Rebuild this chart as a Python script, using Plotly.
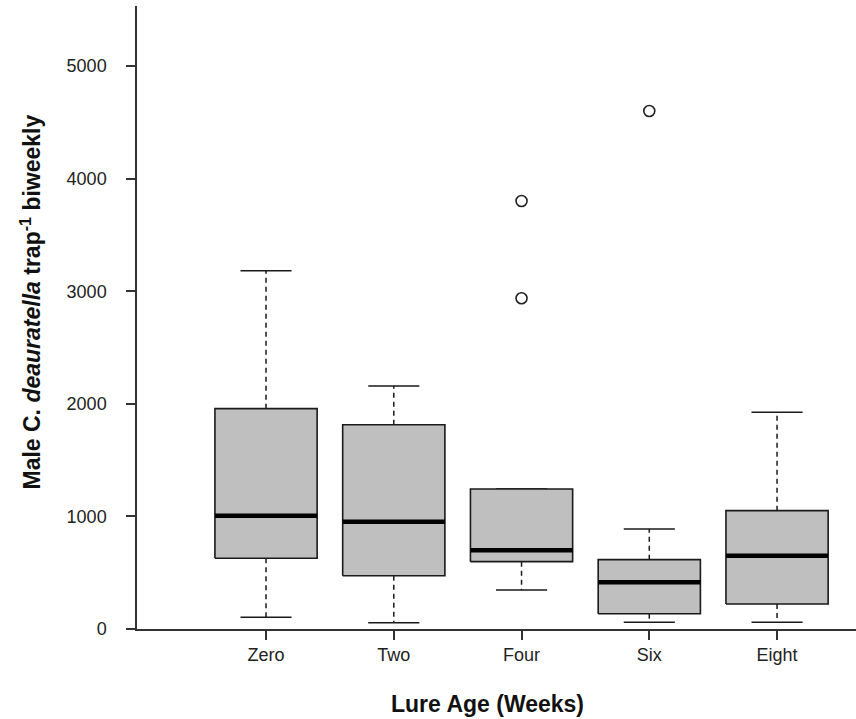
import plotly.graph_objects as go

# Lure age groups and five-number summaries (male moths per trap, biweekly)
categories = ["Zero", "Two", "Four", "Six", "Eight"]
lower_whisker = [104, 56, 346, 59, 59]
q1 = [628, 473, 598, 136, 222]
median = [1006, 953, 699, 415, 651]
q3 = [1957, 1814, 1243, 616, 1051]
upper_whisker = [3182, 2158, 1243, 888, 1924]

# Outlying observations
outlier_group = ["Four", "Four", "Six"]
outlier_value = [2937, 3801, 4600]

y_ticks = [0, 1000, 2000, 3000, 4000, 5000]

positions = list(range(1, len(categories) + 1))
pos_of = dict(zip(categories, positions))

BOX_HALF = 0.40
CAP_HALF = 0.20
FILL = "#BFBFBF"
EDGE = "#1a1a1a"
AXIS = "#333333"

fig = go.Figure()

# dashed whiskers (drawn first so the boxes sit on top)
wx, wy = [], []
for p, lo, a, b, hi in zip(positions, lower_whisker, q1, q3, upper_whisker):
    wx += [p, p, None, p, p, None]
    wy += [b, hi, None, a, lo, None]
fig.add_trace(go.Scatter(x=wx, y=wy, mode="lines", hoverinfo="skip",
                         line=dict(color=EDGE, width=1.5, dash="5px,4px")))

# whisker caps
cx, cy = [], []
for p, lo, hi in zip(positions, lower_whisker, upper_whisker):
    cx += [p - CAP_HALF, p + CAP_HALF, None, p - CAP_HALF, p + CAP_HALF, None]
    cy += [hi, hi, None, lo, lo, None]
fig.add_trace(go.Scatter(x=cx, y=cy, mode="lines", hoverinfo="skip",
                         line=dict(color=EDGE, width=1.5)))

# boxes
for p, a, b in zip(positions, q1, q3):
    fig.add_trace(go.Scatter(
        x=[p - BOX_HALF, p + BOX_HALF, p + BOX_HALF, p - BOX_HALF, p - BOX_HALF],
        y=[a, a, b, b, a], mode="lines", fill="toself", fillcolor=FILL,
        hoverinfo="skip", line=dict(color=EDGE, width=1.6)))

# medians
mx, my = [], []
for p, m in zip(positions, median):
    mx += [p - BOX_HALF, p + BOX_HALF, None]
    my += [m, m, None]
fig.add_trace(go.Scatter(x=mx, y=my, mode="lines", hoverinfo="skip",
                         line=dict(color="#000000", width=4.5)))

# outliers
fig.add_trace(go.Scatter(
    x=[pos_of[g] for g in outlier_group], y=outlier_value, mode="markers",
    marker=dict(symbol="circle-open", size=11, color="#222222",
                line=dict(width=1.6, color="#222222"))))

fig.update_layout(
    width=856, height=719,
    margin=dict(l=137, r=0, t=6, b=90),
    paper_bgcolor="white", plot_bgcolor="white",
    showlegend=False,
    font=dict(family="Liberation Sans, Arial, sans-serif", size=18, color="#222222"),
)

fig.update_xaxes(
    range=[-0.01, 5.618], tickvals=positions, ticktext=categories,
    tickfont=dict(size=18),
    showline=True, linecolor=AXIS, linewidth=1.5,
    ticks="outside", ticklen=9, tickwidth=1.5, tickcolor=AXIS,
    showgrid=False, zeroline=False,
)
fig.update_yaxes(
    range=[0, 5533], tickvals=y_ticks,
    tickfont=dict(size=18),
    showline=True, linecolor=AXIS, linewidth=1.5,
    ticks="outside", ticklen=9, tickwidth=1.5, tickcolor=AXIS,
    ticklabelstandoff=16,
    showgrid=False, zeroline=False,
)

fig.add_annotation(
    text="<b>Lure Age (Weeks)</b>", xref="paper", yref="paper",
    x=0.488, y=-0.1204, xanchor="center", yanchor="middle", showarrow=False,
    font=dict(size=23, color="#111111"),
)
fig.add_annotation(
    text="<b>Male C. <i>deauratella</i> trap<sup>-1</sup> biweekly</b>",
    xref="paper", yref="paper", x=-0.148, y=0.525, textangle=-90,
    xanchor="center", yanchor="middle", showarrow=False,
    font=dict(size=23, color="#111111"),
)

fig.write_html("out.html")
